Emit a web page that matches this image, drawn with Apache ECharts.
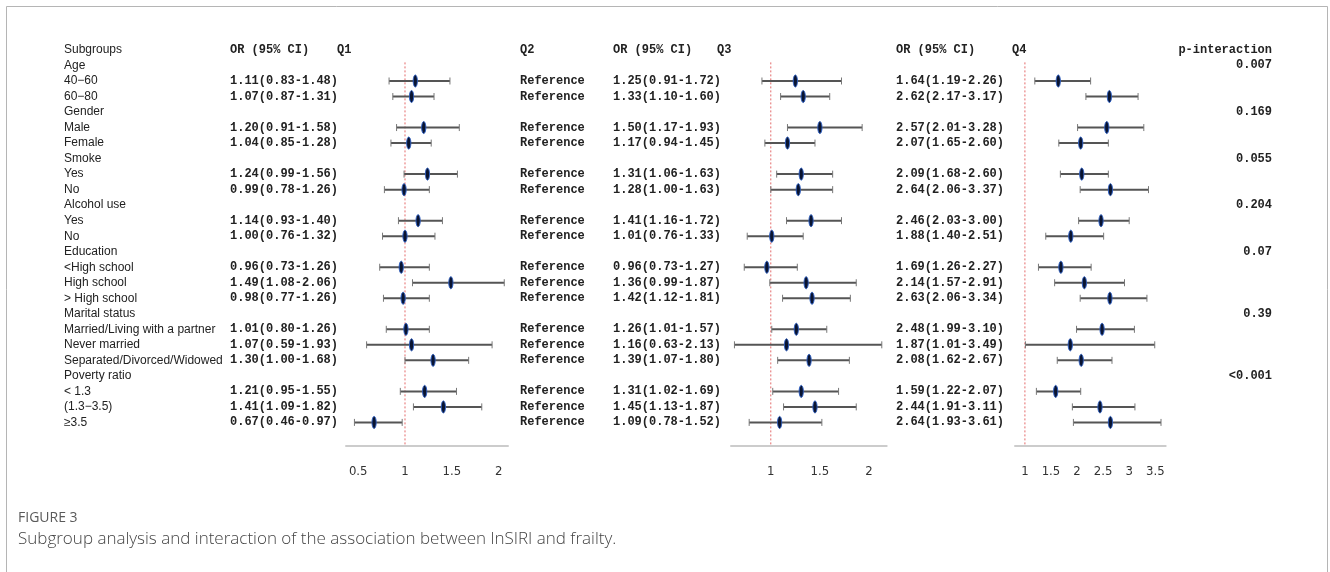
<!DOCTYPE html>
<html>
<head>
<meta charset="utf-8">
<title>Subgroup analysis</title>
<script src="https://cdn.jsdelivr.net/npm/echarts@6/dist/echarts.min.js"></script>
<style>
html, body { margin: 0; padding: 0; background: #fff; }
#main { width: 1330px; height: 572px; }
</style>
</head>
<body>
<div id="main"></div>
<script>
// rows under the header line (row 0 is the header)
var subgroups = ['Age', '40−60', '60−80', 'Gender', 'Male', 'Female', 'Smoke', 'Yes', 'No',
    'Alcohol use', 'Yes', 'No', 'Education', '<High school', 'High school', '> High school',
    'Marital status', 'Married/Living with a partner', 'Never married', 'Separated/Divorced/Widowed',
    'Poverty ratio', '< 1.3', '(1.3−3.5)', '≥3.5'];

var q1OR   = [null, 1.11, 1.07, null, 1.20, 1.04, null, 1.24, 0.99, null, 1.14, 1.00, null, 0.96, 1.49, 0.98, null, 1.01, 1.07, 1.30, null, 1.21, 1.41, 0.67];
var q1Low  = [null, 0.83, 0.87, null, 0.91, 0.85, null, 0.99, 0.78, null, 0.93, 0.76, null, 0.73, 1.08, 0.77, null, 0.80, 0.59, 1.00, null, 0.95, 1.09, 0.46];
var q1High = [null, 1.48, 1.31, null, 1.58, 1.28, null, 1.56, 1.26, null, 1.40, 1.32, null, 1.26, 2.06, 1.26, null, 1.26, 1.93, 1.68, null, 1.55, 1.82, 0.97];

var q3OR   = [null, 1.25, 1.33, null, 1.50, 1.17, null, 1.31, 1.28, null, 1.41, 1.01, null, 0.96, 1.36, 1.42, null, 1.26, 1.16, 1.39, null, 1.31, 1.45, 1.09];
var q3Low  = [null, 0.91, 1.10, null, 1.17, 0.94, null, 1.06, 1.00, null, 1.16, 0.76, null, 0.73, 0.99, 1.12, null, 1.01, 0.63, 1.07, null, 1.02, 1.13, 0.78];
var q3High = [null, 1.72, 1.60, null, 1.93, 1.45, null, 1.63, 1.63, null, 1.72, 1.33, null, 1.27, 1.87, 1.81, null, 1.57, 2.13, 1.80, null, 1.69, 1.87, 1.52];

var q4OR   = [null, 1.64, 2.62, null, 2.57, 2.07, null, 2.09, 2.64, null, 2.46, 1.88, null, 1.69, 2.14, 2.63, null, 2.48, 1.87, 2.08, null, 1.59, 2.44, 2.64];
var q4Low  = [null, 1.19, 2.17, null, 2.01, 1.65, null, 1.68, 2.06, null, 2.03, 1.40, null, 1.26, 1.57, 2.06, null, 1.99, 1.01, 1.62, null, 1.22, 1.91, 1.93];
var q4High = [null, 2.26, 3.17, null, 3.28, 2.60, null, 2.60, 3.37, null, 3.00, 2.51, null, 2.27, 2.91, 3.34, null, 3.10, 3.49, 2.67, null, 2.07, 3.11, 3.61];

var pInteraction = ['0.007', '', '', '0.169', '', '', '0.055', '', '', '0.204', '', '', '0.07', '', '', '',
    '0.39', '', '', '', '<0.001', '', '', ''];

var q1Ticks = [0.5, 1, 1.5, 2];
var q3Ticks = [1, 1.5, 2];
var q4Ticks = [1, 1.5, 2, 2.5, 3, 3.5];

// column layout (px)
var COL = {label: 64, q1or: 230, q1head: 337, q2: 520, q3or: 613, q3head: 717, q4or: 896, q4head: 1012, p: 1272};
var SANS = '12px "Liberation Sans", Arial, sans-serif';
var MONO = 'bold 12px "Liberation Mono", "Courier New", monospace';
var GRID_TOP = 42.2, GRID_H = 403.5;

function fmt(or, lo, hi) {
    if (or == null) return '';
    return or.toFixed(2) + '(' + lo.toFixed(2) + '-' + hi.toFixed(2) + ')';
}

function txt(x, y, s, font, align) {
    return {type: 'text', x: x, y: y, silent: true,
        style: {text: s, font: font, fill: '#222', align: align || 'left', verticalAlign: 'middle',
            textAlign: align || 'left', textVerticalAlign: 'middle'}};
}

// text table, one data item per row
var tableRows = [0];
for (var i = 0; i < subgroups.length; i++) tableRows.push(i + 1);

function renderTable(params, api) {
    var r = api.value(1);
    var y = api.coord([1, r])[1];
    var kids = [];
    if (r === 0) {
        kids.push(txt(COL.label, y, 'Subgroups', SANS));
        kids.push(txt(COL.q1or, y, 'OR (95% CI)', MONO));
        kids.push(txt(COL.q1head, y, 'Q1', MONO));
        kids.push(txt(COL.q2, y, 'Q2', MONO));
        kids.push(txt(COL.q3or, y, 'OR (95% CI)', MONO));
        kids.push(txt(COL.q3head, y, 'Q3', MONO));
        kids.push(txt(COL.q4or, y, 'OR (95% CI)', MONO));
        kids.push(txt(COL.q4head, y, 'Q4', MONO));
        kids.push(txt(COL.p, y, 'p-interaction', MONO, 'right'));
    } else {
        var k = r - 1;
        kids.push(txt(COL.label, y, subgroups[k], SANS));
        if (q1OR[k] != null) {
            kids.push(txt(COL.q1or, y, fmt(q1OR[k], q1Low[k], q1High[k]), MONO));
            kids.push(txt(COL.q2, y, 'Reference', MONO));
            kids.push(txt(COL.q3or, y, fmt(q3OR[k], q3Low[k], q3High[k]), MONO));
            kids.push(txt(COL.q4or, y, fmt(q4OR[k], q4Low[k], q4High[k]), MONO));
        }
        if (pInteraction[k]) kids.push(txt(COL.p, y, pInteraction[k], MONO, 'right'));
    }
    return {type: 'group', children: kids};
}

function renderForest(params, api) {
    var r = api.value(3);
    var m = api.coord([api.value(0), r]);
    var lo = api.coord([api.value(1), r])[0];
    var hi = api.coord([api.value(2), r])[0];
    var y = m[1];
    return {type: 'group', children: [
        {type: 'line', shape: {x1: lo, y1: y, x2: hi, y2: y}, style: {stroke: '#555', lineWidth: 2}},
        {type: 'line', shape: {x1: lo, y1: y - 3.5, x2: lo, y2: y + 3.5}, style: {stroke: '#777', lineWidth: 1}},
        {type: 'line', shape: {x1: hi, y1: y - 3.5, x2: hi, y2: y + 3.5}, style: {stroke: '#777', lineWidth: 1}},
        {type: 'ellipse', shape: {cx: m[0], cy: y, rx: 2.1, ry: 6}, style: {fill: '#0a1430', stroke: '#2d5fc4', lineWidth: 1}}
    ]};
}

function renderRef(params, api) {
    var p = api.coord([api.value(0), 0.8]);
    var cs = params.coordSys;
    return {type: 'line', shape: {x1: p[0], y1: p[1], x2: p[0], y2: cs.y + cs.height - 1},
        style: {stroke: '#e46a6a', lineWidth: 1, lineDash: [2, 2]}};
}

function forestData(or, lo, hi) {
    var d = [];
    for (var i = 0; i < or.length; i++) {
        if (or[i] != null) d.push([or[i], lo[i], hi[i], i + 1]);
    }
    return d;
}

function xAxisFor(idx, min, max, ticks) {
    return {
        type: 'value', gridIndex: idx, min: min, max: max, position: 'bottom',
        axisLine: {show: true, onZero: false, lineStyle: {color: '#cccccc', width: 2}},
        axisTick: {show: false},
        splitLine: {show: false},
        axisLabel: {
            customValues: ticks, margin: 19, fontSize: 13, color: '#333',
            fontFamily: '"Liberation Sans Narrow", "DejaVu Sans Condensed", sans-serif',
            formatter: function (v) { return String(v); }
        }
    };
}

function yAxisFor(idx) {
    return {type: 'value', gridIndex: idx, inverse: true, min: -0.5, max: 25.5, show: false};
}

var myChart = echarts.init(document.getElementById('main'));
var option = {
    backgroundColor: '#fff',
    animation: false,
    title: [
        {text: 'FIGURE 3', left: 18, top: 511, padding: 0,
            textStyle: {fontFamily: '"Open Sans", sans-serif', fontSize: 14, fontWeight: 'normal', color: '#5a5a5a'}},
        {text: 'Subgroup analysis and interaction of the association between lnSIRI and frailty.', left: 18, top: 531, padding: 0,
            textStyle: {fontFamily: '"Open Sans", sans-serif', fontSize: 17, fontWeight: 300, color: '#444'}}
    ],
    graphic: [
        {type: 'rect', silent: true, shape: {x: 6.5, y: 6.5, width: 1321, height: 620},
            style: {fill: 'none', stroke: '#b5b5b5', lineWidth: 1}}
    ],
    grid: [
        {left: 346, top: GRID_TOP, width: 162, height: GRID_H},
        {left: 731, top: GRID_TOP, width: 155.7, height: GRID_H},
        {left: 1015, top: GRID_TOP, width: 150.7, height: GRID_H}
    ],
    xAxis: [
        xAxisFor(0, 0.37, 2.1, q1Ticks),
        xAxisFor(1, 0.595, 2.18, q3Ticks),
        xAxisFor(2, 0.81, 3.70, q4Ticks)
    ],
    yAxis: [yAxisFor(0), yAxisFor(1), yAxisFor(2)],
    series: [
        {type: 'custom', name: 'ref1', xAxisIndex: 0, yAxisIndex: 0, renderItem: renderRef, data: [[1]], silent: true, clip: false, encode: {x: 0}},
        {type: 'custom', name: 'ref3', xAxisIndex: 1, yAxisIndex: 1, renderItem: renderRef, data: [[1]], silent: true, clip: false, encode: {x: 0}},
        {type: 'custom', name: 'ref4', xAxisIndex: 2, yAxisIndex: 2, renderItem: renderRef, data: [[1]], silent: true, clip: false, encode: {x: 0}},
        {type: 'custom', name: 'Q1', xAxisIndex: 0, yAxisIndex: 0, renderItem: renderForest, clip: false,
            encode: {x: [0, 1, 2], y: 3}, data: forestData(q1OR, q1Low, q1High)},
        {type: 'custom', name: 'Q3', xAxisIndex: 1, yAxisIndex: 1, renderItem: renderForest, clip: false,
            encode: {x: [0, 1, 2], y: 3}, data: forestData(q3OR, q3Low, q3High)},
        {type: 'custom', name: 'Q4', xAxisIndex: 2, yAxisIndex: 2, renderItem: renderForest, clip: false,
            encode: {x: [0, 1, 2], y: 3}, data: forestData(q4OR, q4Low, q4High)},
        {type: 'custom', name: 'table', xAxisIndex: 0, yAxisIndex: 0, renderItem: renderTable, clip: false, silent: true,
            encode: {x: 0, y: 1}, data: tableRows.map(function (r) { return [1, r]; })}
    ]
};
myChart.setOption(option);
</script>
</body>
</html>
